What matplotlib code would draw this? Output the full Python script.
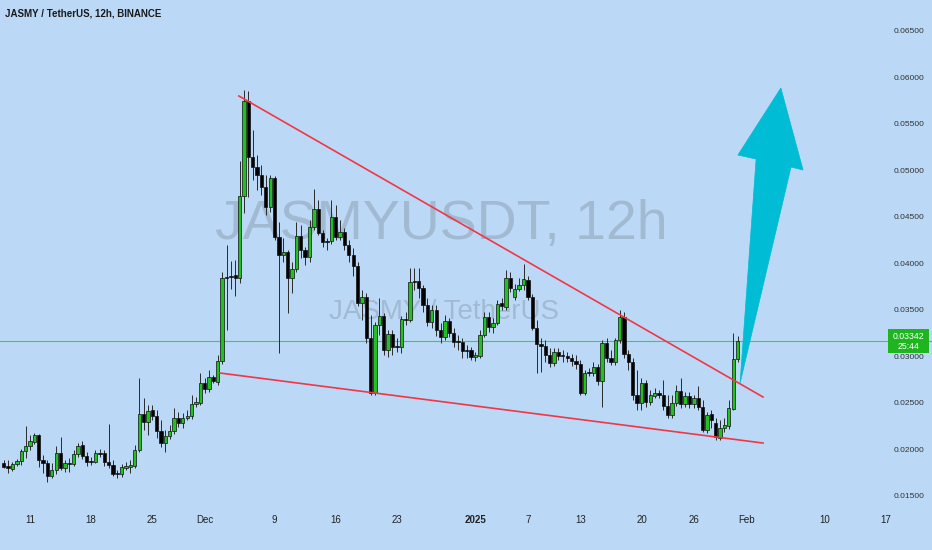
import numpy as np
import matplotlib
matplotlib.use("Agg")
import matplotlib.pyplot as plt
import matplotlib.dates as mdates
import matplotlib.transforms as mtransforms
from matplotlib.patches import Polygon, Rectangle

# JASMY/USDT 12h candles, prices in units of 1e-5 USDT
first_bar = np.datetime64("2024-11-08T00:00")
unit = 1e-5

opens = [1866, 1833, 1801, 1855, 1887, 1995, 2048, 2091, 2167, 1898,
         1866, 1726, 1790, 1973, 1812, 1866, 1855, 1962, 2059, 1941,
         1887, 1876, 1973, 1973, 1876, 1844, 1758, 1747, 1812, 1823,
         1833, 2005, 2392, 2306, 2435, 2371, 2210, 2081, 2156, 2210,
         2349, 2296, 2349, 2371, 2500, 2511, 2726, 2661, 2790, 2736,
         2962, 3865, 3876, 3887, 3854, 4736, 5757, 5155, 5047, 4961,
         4832, 4618, 4930, 4295, 4102, 4134, 3854, 3951, 4306, 4155,
         4080, 4403, 4596, 4338, 4252, 4252, 4510, 4295, 4349, 4209,
         4102, 3983, 3586, 3650, 3210, 2618, 3349, 3446, 3080, 3252,
         3123, 3113, 3414, 3403, 3822, 3822, 3747, 3564, 3381, 3510,
         3295, 3221, 3392, 3263, 3177, 3166, 3080, 3080, 3005, 3016,
         3242, 3435, 3328, 3371, 3586, 3543, 3854, 3650, 3736, 3779,
         3833, 3650, 3317, 3145, 3123, 3027, 2941, 3059, 3027, 3016,
         2994, 2962, 2930, 2618, 2844, 2833, 2898, 2747, 3156, 2994,
         2951, 3188, 3435, 3037, 2951, 2597, 2511, 2726, 2521, 2586,
         2618, 2597, 2478, 2382, 2511, 2640, 2500, 2586, 2500, 2564,
         2468, 2220, 2392, 2296, 2134, 2242, 2263, 2446, 2984]

highs = [1898, 1898, 1876, 1909, 2016, 2263, 2167, 2188, 2177, 1952,
         1898, 1866, 2048, 2145, 1898, 1919, 2005, 2081, 2102, 1984,
         1930, 2005, 2016, 2005, 2285, 1898, 1790, 1855, 1876, 1898,
         2059, 2779, 2564, 2489, 2489, 2435, 2328, 2220, 2274, 2457,
         2414, 2403, 2435, 2597, 2575, 2833, 2779, 2865, 2812, 3027,
         3919, 4209, 4037, 4048, 5112, 5875, 5865, 5445, 5177, 5069,
         4961, 4961, 4951, 4456, 4284, 4155, 4026, 4456, 4424, 4188,
         4478, 4811, 4693, 4370, 4284, 4693, 4639, 4478, 4392, 4263,
         4177, 4026, 3725, 3693, 3457, 3381, 3640, 3478, 3295, 3295,
         3210, 3446, 3489, 3962, 3962, 3962, 3779, 3640, 3564, 3564,
         3371, 3457, 3424, 3317, 3242, 3210, 3134, 3113, 3059, 3295,
         3489, 3489, 3424, 3618, 3640, 3940, 3919, 3790, 3854, 4005,
         3876, 3682, 3403, 3210, 3188, 3102, 3102, 3102, 3080, 3059,
         3037, 3027, 2973, 2865, 2887, 2951, 2930, 3188, 3210, 3080,
         3210, 3510, 3489, 3080, 2994, 2865, 2779, 2758, 2650, 2672,
         2650, 2758, 2597, 2597, 2704, 2779, 2629, 2629, 2597, 2694,
         2543, 2414, 2435, 2349, 2328, 2349, 2543, 3263, 3231]

lows = [1812, 1758, 1780, 1833, 1844, 1919, 2005, 2070, 1823, 1758,
        1661, 1704, 1747, 1790, 1769, 1769, 1833, 1930, 1909, 1833,
        1844, 1866, 1930, 1833, 1812, 1726, 1704, 1715, 1790, 1758,
        1812, 1984, 2220, 2167, 2328, 2134, 2038, 1984, 2124, 2177,
        2253, 2242, 2328, 2339, 2468, 2489, 2618, 2629, 2726, 2704,
        2930, 3295, 3736, 3661, 3801, 4553, 4725, 4908, 4800, 4747,
        4532, 4564, 4263, 3048, 4026, 3478, 3693, 3919, 4070, 3994,
        4026, 4370, 4316, 4188, 4155, 4220, 4263, 4263, 4155, 4026,
        3876, 3553, 3403, 3156, 2597, 2597, 3242, 3027, 3005, 3027,
        3059, 3048, 3349, 3381, 3725, 3640, 3489, 3338, 3317, 3231,
        3156, 3188, 3221, 3113, 3080, 2994, 2994, 2973, 2962, 2994,
        3221, 3274, 3263, 3349, 3510, 3510, 3704, 3618, 3715, 3725,
        3618, 3295, 2833, 2844, 2951, 2898, 2908, 2973, 2951, 2951,
        2908, 2876, 2597, 2597, 2801, 2801, 2704, 2468, 2951, 2919,
        2919, 3156, 2994, 2865, 2543, 2435, 2435, 2468, 2489, 2564,
        2564, 2435, 2349, 2349, 2478, 2457, 2468, 2457, 2457, 2435,
        2199, 2188, 2242, 2113, 2113, 2199, 2231, 2435, 2951]

closes = [1823, 1812, 1855, 1887, 1995, 2048, 2102, 2167, 1898, 1866,
          1726, 1790, 1973, 1812, 1866, 1855, 1962, 2048, 1941, 1876,
          1876, 1973, 1962, 1876, 1844, 1747, 1747, 1823, 1833, 1844,
          2005, 2392, 2306, 2425, 2371, 2210, 2081, 2156, 2210, 2349,
          2296, 2349, 2371, 2500, 2521, 2726, 2661, 2790, 2747, 2962,
          3854, 3854, 3865, 3854, 4736, 5757, 5155, 5047, 4961, 4832,
          4618, 4930, 4295, 4102, 4134, 3854, 3951, 4306, 4155, 4080,
          4403, 4596, 4338, 4241, 4241, 4510, 4295, 4349, 4209, 4102,
          3983, 3586, 3650, 3210, 2618, 3349, 3446, 3080, 3252, 3113,
          3113, 3414, 3403, 3811, 3811, 3747, 3564, 3381, 3510, 3295,
          3221, 3392, 3263, 3166, 3166, 3070, 3070, 3005, 3027, 3242,
          3435, 3328, 3371, 3575, 3553, 3854, 3747, 3736, 3779, 3844,
          3650, 3317, 3145, 3123, 3027, 2941, 3059, 3016, 3016, 2994,
          2962, 2930, 2618, 2833, 2833, 2898, 2747, 3156, 2994, 2951,
          3188, 3435, 3037, 2951, 2597, 2511, 2726, 2521, 2597, 2618,
          2597, 2478, 2382, 2511, 2640, 2500, 2586, 2500, 2564, 2468,
          2220, 2382, 2328, 2145, 2242, 2274, 2457, 2984, 3177]

title = "JASMY / TetherUS, 12h, BINANCE"
watermark = "JASMYUSDT, 12h"
watermark_sub = "JASMY / TetherUS"
last_price_text = "0.03342"
countdown_text = "25:44"

date_ticks = ["2024-11-11", "2024-11-18", "2024-11-25", "2024-12-01", "2024-12-09",
              "2024-12-16", "2024-12-23", "2025-01-01", "2025-01-07", "2025-01-13",
              "2025-01-20", "2025-01-26", "2025-02-01", "2025-02-10", "2025-02-17"]
date_labels = ["11", "18", "25", "Dec", "9", "16", "23", "2025", "7", "13",
               "20", "26", "Feb", "10", "17"]
price_ticks = [0.015, 0.020, 0.025, 0.030, 0.035, 0.040, 0.045, 0.050, 0.055, 0.060, 0.065]

# wedge trendlines
upper_dates = ["2024-12-04T22:00", "2025-02-02T22:00"]
upper_prices = [0.05812, 0.02575]
lower_dates = ["2024-12-02T18:00", "2025-02-02T22:00"]
lower_prices = [0.02833, 0.02080]

# breakout arrow outline
arrow_dates = ["2025-01-31T07:00", "2025-02-02T03:00", "2025-01-31T01:00",
               "2025-02-04T23:00", "2025-02-07T12:00", "2025-02-06T03:00"]
arrow_prices = [0.02726, 0.05134, 0.05177, 0.05898, 0.05016, 0.05048]

bg = "#bbd9f6"
up_col = "#22c11f"
narrow = ["Liberation Sans Narrow", "DejaVu Sans Condensed", "Liberation Sans", "DejaVu Sans"]

o = np.array(opens) * unit
h = np.array(highs) * unit
l = np.array(lows) * unit
c = np.array(closes) * unit
t = first_bar + np.arange(len(o)) * np.timedelta64(12, "h")
x = mdates.date2num(t)

fig = plt.figure(figsize=(9.32, 5.5), dpi=100, facecolor=bg)
ax = fig.add_axes([0, 0, 1, 1])
ax.set_facecolor(bg)
for s in ax.spines.values():
    s.set_visible(False)
ax.set_xticks([])
ax.set_yticks([])

x0 = mdates.date2num(np.datetime64("2024-11-07T13:40"))
x1 = mdates.date2num(np.datetime64("2025-02-22T06:15"))
ax.set_xlim(x0, x1)
ax.set_ylim(0.0093, 0.06844)

# watermark
ax.text(0.474, 0.59, watermark, transform=ax.transAxes, ha="center", va="center",
        fontsize=40, family=narrow, color="#8a9bb0", alpha=0.5, zorder=0)
ax.text(0.476, 0.432, watermark_sub, transform=ax.transAxes, ha="center", va="center",
        fontsize=20, family=narrow, color="#8a9bb0", alpha=0.5, zorder=0)

# last price line
ax.axhline(c[-1], color="#3fcf3f", lw=0.8, zorder=1)

# candles
up = c >= o
ax.vlines(x, l, h, color="#2a2a2a", lw=0.7, zorder=2)
body = np.maximum(np.abs(c - o), 0.00004)
ax.bar(x, body, bottom=np.minimum(o, c), width=0.38,
       color=np.where(up, up_col, "black"), edgecolor="#111111", linewidth=0.5, zorder=3)

# trendlines
ax.plot(mdates.date2num(np.array(upper_dates, dtype="datetime64[m]")), upper_prices,
        color="#f23645", lw=1.2, zorder=4)
ax.plot(mdates.date2num(np.array(lower_dates, dtype="datetime64[m]")), lower_prices,
        color="#f23645", lw=1.2, zorder=4)

# arrow
ax_pts = np.column_stack([mdates.date2num(np.array(arrow_dates, dtype="datetime64[m]")), arrow_prices])
ax.add_patch(Polygon(ax_pts, closed=True, facecolor="#00bcd4", edgecolor="#00bcd4", lw=0.5, zorder=5))

# axis labels drawn inside
tx = mtransforms.blended_transform_factory(ax.transData, ax.transAxes)
for d, lab in zip(date_ticks, date_labels):
    ax.text(mdates.date2num(np.datetime64(d)), 0.054, lab, transform=tx, ha="center", va="center",
            fontsize=7, family=narrow, color="#222222",
            fontweight="bold" if lab == "2025" else "normal")

ty = mtransforms.blended_transform_factory(ax.transAxes, ax.transData)
for p in price_ticks:
    ax.text(0.992, p, f"{p:.5f}", transform=ty, ha="right", va="center",
            fontsize=6, family=narrow, color="#333333")

# last price tag
ax.add_patch(Rectangle((0.953, c[-1] - 0.00127), 0.044, 0.00254, transform=ty,
                       facecolor="#1fb51f", edgecolor="none", zorder=6))
ax.text(0.975, c[-1], last_price_text + "\n" + countdown_text, transform=ty, ha="center",
        va="center", fontsize=6.3, family=narrow, color="white", linespacing=1.15, zorder=7)

ax.text(0.005, 0.976, title, transform=ax.transAxes, ha="left", va="center",
        fontsize=7, family=narrow, fontweight="bold", color="#1a1a1a")

fig.savefig("out.png", dpi=100, facecolor=bg)
